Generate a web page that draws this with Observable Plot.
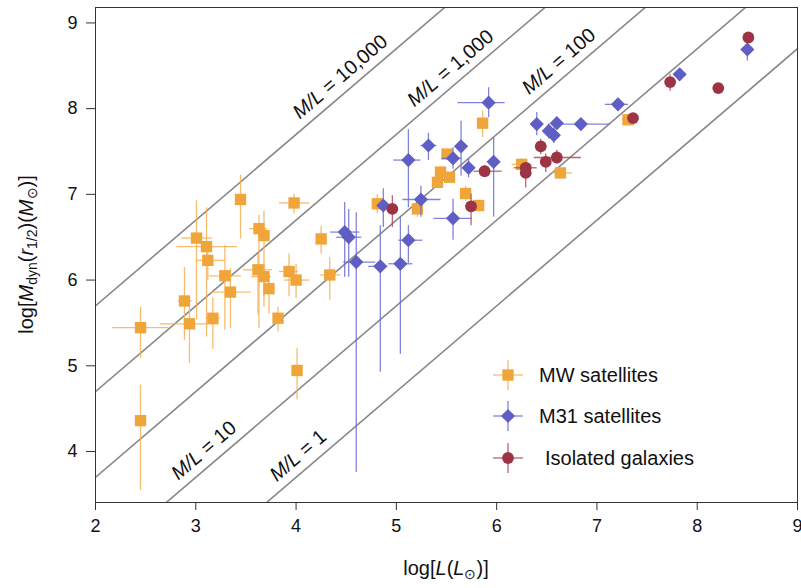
<!DOCTYPE html>
<html><head><meta charset="utf-8">
<script src="https://cdn.jsdelivr.net/npm/d3@7"></script>
<script src="https://cdn.jsdelivr.net/npm/@observablehq/plot@0.6"></script>
<style>body{margin:0;background:#fff} svg{display:block}</style>
</head><body><div id="chart"></div>
<script>
const xTicks = [2,3,4,5,6,7,8,9];
const yTicks = [4,5,6,7,8,9];

// Milky Way satellites
const mwX   = [2.449,2.449,2.887,2.937,3.007,3.107,3.12,3.17,3.29,3.346,3.446,3.63,3.68,3.62,3.68,3.73,3.82,3.93,4.00,3.98,4.01,4.25,4.336,4.81,5.21,5.41,5.44,5.53,5.505,5.69,5.82,5.86,6.25,6.636,7.31];
const mwY   = [5.445,4.36,5.756,5.49,6.49,6.39,6.23,5.555,6.05,5.86,6.94,6.60,6.52,6.12,6.04,5.90,5.555,6.10,6.00,6.90,4.945,6.48,6.06,6.89,6.83,7.14,7.26,7.20,7.47,7.01,6.87,7.83,7.35,7.25,7.87];
const mwXlo = [2.166,2.40,2.82,2.64,2.857,2.807,3.01,3.10,3.13,3.15,3.40,3.53,3.62,3.47,3.55,3.68,3.78,3.83,3.88,3.83,3.98,4.20,4.24,4.76,5.17,5.37,5.40,5.49,5.46,5.65,5.76,5.82,6.15,6.55,7.25];
const mwXhi = [2.73,2.50,2.96,3.23,3.163,3.41,3.29,3.24,3.45,3.55,3.49,3.71,3.74,3.76,3.75,3.78,3.86,4.02,4.13,4.13,4.04,4.30,4.44,4.86,5.25,5.45,5.48,5.57,5.55,5.73,5.88,5.90,6.35,6.75,7.37];
const mwYlo = [5.09,3.55,5.30,5.03,5.54,5.34,6.00,5.20,5.42,5.44,6.485,5.44,5.69,5.60,5.80,5.61,5.40,5.81,5.79,6.78,4.61,6.31,5.77,6.78,6.74,7.08,7.20,7.14,7.41,6.92,6.80,7.67,7.28,7.20,7.83];
const mwYhi = [5.69,4.78,6.15,5.69,6.93,6.85,6.40,5.80,6.41,6.14,7.23,6.76,6.81,6.30,6.20,6.06,5.69,6.31,6.19,7.01,5.21,6.63,6.27,7.00,6.92,7.20,7.32,7.26,7.53,7.10,6.94,7.98,7.42,7.30,7.91];

// M31 satellites
const m31X   = [4.485,4.525,4.60,4.84,5.04,4.87,5.12,5.12,5.245,5.32,5.565,5.565,5.645,5.72,5.92,5.97,6.40,6.52,6.57,6.60,6.84,7.21,7.825,8.50];
const m31Y   = [6.56,6.50,6.21,6.16,6.19,6.87,6.465,7.40,6.94,7.57,6.72,7.42,7.56,7.31,8.07,7.38,7.82,7.74,7.69,7.83,7.82,8.05,8.40,8.69];
const m31Xlo = [4.34,4.40,4.47,4.72,4.92,4.83,5.02,4.97,5.06,5.24,5.37,5.45,5.60,5.66,5.61,5.93,6.35,6.47,6.52,6.55,6.60,7.08,7.79,8.49];
const m31Xhi = [4.63,4.65,4.79,4.91,5.16,4.91,5.26,5.24,5.44,5.40,5.75,5.65,5.69,5.78,6.08,6.01,6.45,6.57,6.62,6.65,7.13,7.31,7.86,8.51];
const m31Ylo = [6.04,6.04,3.76,4.93,5.14,6.62,6.20,6.85,6.74,7.40,6.47,7.30,7.22,7.20,7.90,6.74,7.69,7.65,7.60,7.76,7.76,8.00,8.36,8.56];
const m31Yhi = [6.91,6.83,6.79,6.64,6.74,7.07,6.64,7.76,7.10,7.72,6.95,7.55,7.86,7.42,8.25,7.67,7.96,7.83,7.78,7.90,7.88,8.10,8.44,8.77];

// Isolated galaxies
const isoX   = [4.96,5.745,5.88,6.29,6.29,6.44,6.49,6.60,7.36,7.73,8.21,8.51];
const isoY   = [6.83,6.86,7.27,7.31,7.25,7.56,7.38,7.43,7.89,8.31,8.24,8.83];
const isoXlo = [4.92,5.70,5.77,6.17,6.26,6.40,6.45,6.37,7.36,7.73,8.21,8.51];
const isoXhi = [5.00,5.79,6.05,6.40,6.32,6.48,6.53,6.84,7.36,7.73,8.21,8.51];
const isoYlo = [6.62,6.64,7.20,7.25,7.08,7.47,7.26,7.36,7.89,8.21,8.24,8.83];
const isoYhi = [6.99,7.01,7.34,7.37,7.36,7.65,7.48,7.52,7.89,8.40,8.24,8.83];

// constant mass-to-light lines: log M(r1/2) = log L - log 2 + log(M/L)
const mlK     = [0,1,2,3,4];
const mlText  = ["1","10","100","1,000","10,000"];
const mlLabelX= [4.02,3.08,6.62,5.54,4.44];

const colors = {mw:"#f0a53a", m31:"#5e5ec4", iso:"#9d3446"};
const barColors = {mw:"#f3b255", m31:"#6c6cd2", iso:"#ab4a5d"};

function rows(X,Y,Xlo,Xhi,Ylo,Yhi){
  return X.map((x,i)=>({x, y:Y[i], xlo:Xlo[i], xhi:Xhi[i], ylo:Ylo[i], yhi:Yhi[i]}));
}
const mw = rows(mwX,mwY,mwXlo,mwXhi,mwYlo,mwYhi);
const m31 = rows(m31X,m31Y,m31Xlo,m31Xhi,m31Ylo,m31Yhi);
const iso = rows(isoX,isoY,isoXlo,isoXhi,isoYlo,isoYhi);

const lineRows = mlK.flatMap(k => [1.5, 9.5].map(x => ({k, x, y: x - Math.log10(2) + k})));
const labelRows = mlK.map((k,i)=>({k, text: mlText[i], x: mlLabelX[i], y: mlLabelX[i] - Math.log10(2) + k}));

const W = 801, H = 588, mL = 95, mR = 4, mT = 7, mB = 86;
const xDom = [2,9], yDom = [3.405, 9.18];
const pxPerX = (W-mL-mR)/(xDom[1]-xDom[0]);
const pxPerY = (H-mT-mB)/(yDom[1]-yDom[0]);
const angle = -Math.atan(pxPerY/pxPerX)*180/Math.PI;

function series(data, key, symbol, r){
  return [
    Plot.link(data, {x1:"xlo", x2:"xhi", y1:"y", y2:"y", stroke:barColors[key], strokeWidth:1.3, strokeOpacity:0.85}),
    Plot.link(data, {x1:"x", x2:"x", y1:"ylo", y2:"yhi", stroke:barColors[key], strokeWidth:1.3, strokeOpacity:0.85}),
    Plot.dot(data, {x:"x", y:"y", symbol, r, fill:colors[key], stroke:"none"})
  ];
}

const chart = Plot.plot({
  width: W, height: H,
  marginLeft: mL, marginRight: mR, marginTop: mT, marginBottom: mB,
  style: {fontFamily: "'Liberation Sans', Arial, Helvetica, sans-serif", background: "#fff", color: "#111"},
  x: {domain: xDom, label: null},
  y: {domain: yDom, label: null},
  marks: [
    Plot.line(lineRows, {x:"x", y:"y", z:"k", stroke:"#888", strokeWidth:1.6, clip:"frame"}),
    Plot.text(labelRows, {x:"x", y:"y", text:"text", rotate: angle, dy:-20, fontSize:20, fill:"#111", className:"ml-label"}),
    ...series(mw, "mw", "square", 6.4),
    ...series(m31, "m31", "diamond2", 6.4),
    ...series(iso, "iso", "circle", 5.9),
    Plot.frame({stroke:"#333", strokeWidth:1}),
    Plot.axisX({ticks: xTicks, tickFormat: d => String(d), tickSize: 8, tickPadding: 9, fontSize: 18, label: null, stroke:"#333", textAnchor: "middle"}),
    Plot.axisY({ticks: yTicks, tickFormat: d => String(d), tickSize: 9, tickPadding: 9, fontSize: 18, label: null, stroke:"#333"})
  ]
});
document.getElementById("chart").appendChild(chart);

const svg = d3.select(chart);
// italic M/L in line labels
svg.selectAll(".ml-label text").each(function(){
  const t = this.textContent;
  const el = d3.select(this);
  el.text(null);
  el.append("tspan").attr("font-style","italic").text("M/L");
  el.append("tspan").text(" = " + t);
});

// axis titles
const fam = "'Liberation Sans', Arial, Helvetica, sans-serif";
const yl = svg.append("text")
  .attr("transform", `translate(33,${(mT + H - mB)/2}) rotate(-90)`)
  .attr("text-anchor","middle").attr("font-size",20).attr("font-family",fam).attr("fill","#111");
yl.append("tspan").text("log[");
yl.append("tspan").attr("font-style","italic").text("M");
yl.append("tspan").attr("font-size",14).attr("dy",4).text("dyn");
yl.append("tspan").attr("dy",-4).text("(");
yl.append("tspan").attr("font-style","italic").text("r");
yl.append("tspan").attr("font-size",14).attr("dy",4).text("1/2");
yl.append("tspan").attr("dy",-4).text(")(");
yl.append("tspan").attr("font-style","italic").text("M");
yl.append("tspan").attr("font-size",14).attr("dy",4).text("\u2299");
yl.append("tspan").attr("dy",-4).text(")]");

const xl = svg.append("text")
  .attr("x", mL + (W - mL - mR)/2).attr("y", 575)
  .attr("text-anchor","middle").attr("font-size",20).attr("font-family",fam).attr("fill","#111");
xl.append("tspan").text("log[");
xl.append("tspan").attr("font-style","italic").text("L");
xl.append("tspan").text("(");
xl.append("tspan").attr("font-style","italic").text("L");
xl.append("tspan").attr("font-size",14).attr("dy",4).text("\u2299");
xl.append("tspan").attr("dy",-4).text(")]");

// keep the last x tick label inside the picture
svg.selectAll("[aria-label='x-axis tick label'] text").filter(function(){ return this.textContent === "9"; })
  .attr("text-anchor","end").attr("dx", 5);

// legend
const legendItems = [
  {key:"mw", label:"MW satellites", sym:d3.symbolSquare, r:6.4, y:375},
  {key:"m31", label:"M31 satellites", sym:d3.symbolDiamond2, r:6.4, y:416},
  {key:"iso", label:"Isolated galaxies", sym:d3.symbolCircle, r:5.9, y:458, dx:6}
];
const lg = svg.append("g");
legendItems.forEach(it => {
  const g = lg.append("g").attr("transform", `translate(508,${it.y})`);
  g.append("line").attr("x1",-15).attr("x2",15).attr("stroke",barColors[it.key]).attr("stroke-width",1.3).attr("stroke-opacity",0.85);
  g.append("line").attr("y1",-15).attr("y2",15).attr("stroke",barColors[it.key]).attr("stroke-width",1.3).attr("stroke-opacity",0.85);
  g.append("path").attr("d", d3.symbol(it.sym, Math.PI*it.r*it.r)()).attr("fill", colors[it.key]);
  g.append("text").attr("x",31 + (it.dx || 0)).attr("y",0).attr("dy","0.35em").attr("text-anchor","start")
    .attr("font-size",20).attr("font-family",fam).attr("fill","#111").text(it.label);
});
</script>
</body></html>
